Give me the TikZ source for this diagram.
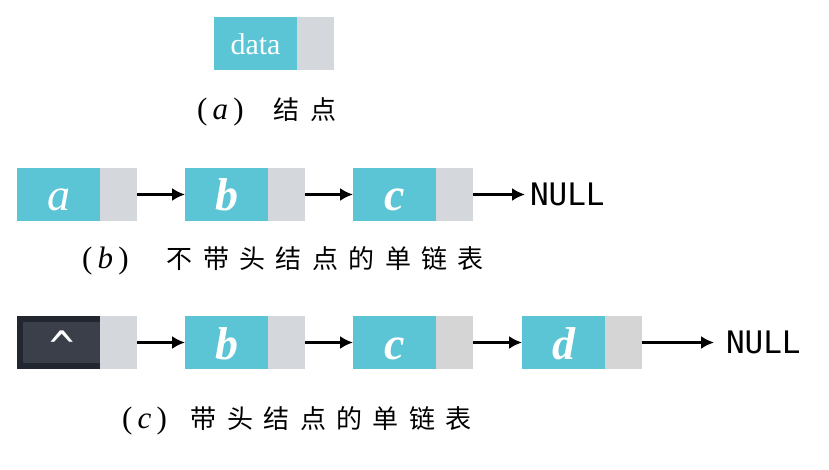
\documentclass[tikz,border=0pt]{standalone}
\usepackage{fontspec}
\setmainfont{Liberation Serif}
\setmonofont{DejaVu Sans Mono}
\newfontfamily\cjk[LetterSpace=40]{Noto Sans CJK SC}
\usetikzlibrary{positioning,arrows.meta}

\definecolor{valcyan}{HTML}{5BC5D5}
\definecolor{ptrgray}{HTML}{D4D7DB}
\definecolor{ptrgrayb}{HTML}{D5D5D5}
\definecolor{headdark}{HTML}{22272F}
\definecolor{headin}{HTML}{3A3F4A}

\newcommand{\capletter}[2][34pt]{{\rmfamily\fontsize{31}{31}\selectfont(\,\textit{#2}\,)}\hspace{#1}}

\begin{document}
\begin{tikzpicture}[x=1pt, y=-1pt,
  val/.style={rectangle, fill=valcyan, minimum width=83pt, minimum height=53pt,
              inner sep=0, outer sep=0, text=white},
  letter/.style={val, text height=33pt, text depth=0pt,
              font=\fontsize{46}{48}\selectfont\bfseries\itshape},
  ptr/.style={rectangle, fill=ptrgray, minimum width=37pt, minimum height=53pt,
              inner sep=0, outer sep=0},
  link/.style={line width=2.2pt, -{Latex[length=13pt,width=13pt]}},
  nullnode/.style={inner sep=0, outer sep=0, anchor=west,
              font=\fontsize{31}{32}\selectfont\ttfamily},
  caption/.style={inner sep=0, anchor=west, font=\fontsize{26}{30}\selectfont\cjk}]

  \useasboundingbox (0,0) rectangle (829,470);

  % (a) one node
  \draw (255.5,44)  node(D)  [val, font=\fontsize{30}{32}\selectfont] {data};
  \node (Dp) [ptr, right=0pt of D] {};
  \draw (197,112)   node(CapA) [caption] {\capletter[30pt]{a}结点};

  % (b) Nodes
  \draw (58.5 ,194.5) node(A1) [letter, font=\fontsize{46}{48}\selectfont\itshape] {a};
  \draw (226.5,194.5) node(B1) [letter] {b};
  \draw (394.5,194.5) node(C1) [letter] {c};
  \node (A1p) [ptr, right=0pt of A1] {};
  \node (B1p) [ptr, right=0pt of B1] {};
  \node (C1p) [ptr, right=0pt of C1] {};
  \draw (530,194.5) node(N1) [nullnode] {NULL};

  % (b) Edges
  \path[link] (A1p) edge (B1);
  \path[link] (B1p) edge (C1);
  \path[link, shorten >=5pt] (C1p) edge (N1);

  \draw (82,261) node(CapB) [caption] {\capletter[38pt]{b}不带头结点的单链表};

  % (c) Nodes
  \draw (58.5 ,342.5) node(H)  [val, fill=headdark] {};
  \node (Hin) [rectangle, fill=headin, minimum width=77pt, minimum height=41pt,
               inner sep=0, anchor=east] at (H.east) {};
  \draw (62,346) node(Hc) [text=white, font=\fontsize{42}{42}\selectfont\ttfamily] {\^{}};
  \draw (226.5,342.5) node(B2) [letter] {b};
  \draw (394.5,342.5) node(C2) [letter] {c};
  \draw (563.5,342.5) node(D2) [letter] {d};
  \node (Hp)  [ptr, right=0pt of H]  {};
  \node (B2p) [ptr, right=0pt of B2] {};
  \node (C2p) [ptr, fill=ptrgrayb, right=0pt of C2] {};
  \node (D2p) [ptr, fill=ptrgrayb, right=0pt of D2] {};
  \draw (726,342.5) node(N2) [nullnode] {NULL};

  % (c) Edges
  \path[link] (Hp)  edge (B2);
  \path[link] (B2p) edge (C2);
  \path[link] (C2p) edge (D2);
  \path[link, shorten >=12pt] (D2p) edge (N2);

  \draw (122,421) node(CapC) [caption] {\capletter[24pt]{c}带头结点的单链表};
\end{tikzpicture}
\end{document}
